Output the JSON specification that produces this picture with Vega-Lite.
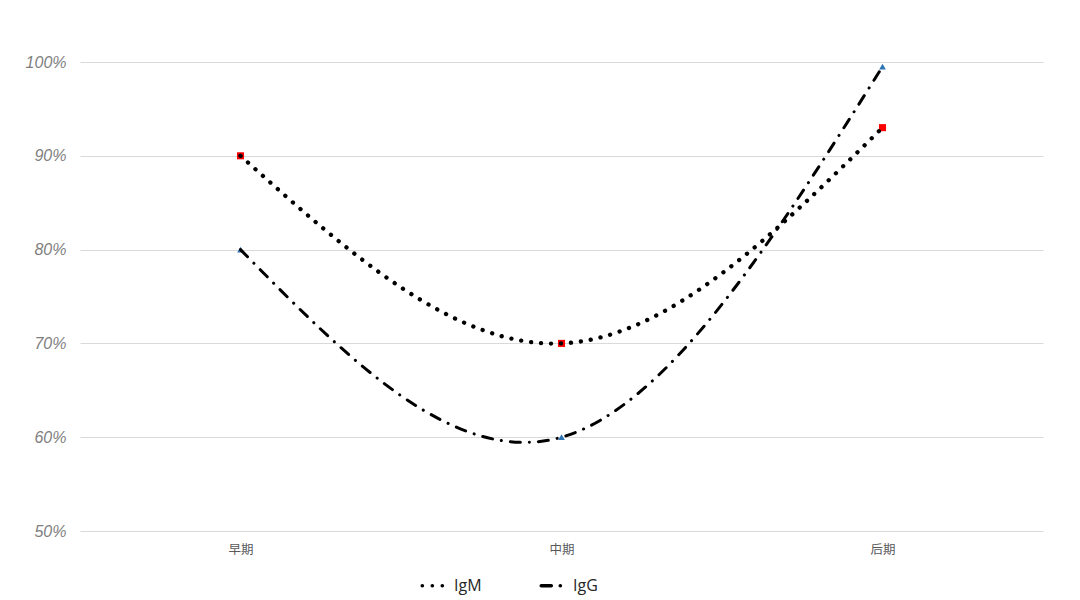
{
  "$schema": "https://vega.github.io/schema/vega-lite/v6.json",
  "width": 963,
  "height": 469,
  "autosize": {"type": "none"},
  "padding": {"left": 80, "top": 62, "right": 37, "bottom": 69},
  "background": "white",
  "config": {"view": {"stroke": null}},
  "data": {
    "values": [
      {"stage": "早期", "series": "IgM", "value": 0.90},
      {"stage": "中期", "series": "IgM", "value": 0.70},
      {"stage": "后期", "series": "IgM", "value": 0.93},
      {"stage": "早期", "series": "IgG", "value": 0.80},
      {"stage": "中期", "series": "IgG", "value": 0.60},
      {"stage": "后期", "series": "IgG", "value": 0.995}
    ]
  },
  "encoding": {
    "x": {
      "field": "stage",
      "type": "ordinal",
      "sort": ["早期", "中期", "后期"],
      "scale": {"type": "point", "padding": 0.5},
      "axis": {
        "title": null,
        "domain": false,
        "ticks": false,
        "grid": false,
        "labelAngle": 0,
        "labelFont": "Noto Sans CJK SC",
        "labelFontSize": 12.5,
        "labelColor": "#595959",
        "labelPadding": 12
      }
    },
    "y": {
      "field": "value",
      "type": "quantitative",
      "scale": {"domain": [0.5, 1.0], "nice": false, "zero": false},
      "axis": {
        "title": null,
        "values": [0.5, 0.6, 0.7, 0.8, 0.9, 1.0],
        "format": ".0%",
        "domain": false,
        "ticks": false,
        "grid": true,
        "gridColor": "#d9d9d9",
        "gridWidth": 1,
        "labelFont": "Liberation Sans",
        "labelFontStyle": "italic",
        "labelFontSize": 16,
        "labelColor": "#7f7f7f",
        "labelPadding": 14
      }
    },
    "strokeDash": {
      "field": "series",
      "type": "nominal",
      "sort": ["IgM", "IgG"],
      "scale": {"domain": ["IgM", "IgG"], "range": [[0.1, 9.9], [10, 9, 0.1, 9]]},
      "legend": {
        "title": null,
        "orient": "none",
        "legendX": 340,
        "legendY": 508,
        "direction": "horizontal",
        "symbolType": "stroke",
        "symbolSize": 700,
        "symbolStrokeWidth": 3.6,
        "symbolStrokeColor": "black",
        "columnPadding": 52,
        "labelFont": "Open Sans",
        "labelFontSize": 16,
        "labelColor": "#262626",
        "labelOffset": 3,
        "encode": {"symbols": {"update": {"strokeCap": {"value": "round"}}}}
      }
    }
  },
  "layer": [
    {
      "transform": [{"filter": "datum.series === 'IgM'"}],
      "mark": {"type": "point", "shape": "square", "filled": true, "color": "#ff0000", "size": 50, "opacity": 1, "strokeDash": [1, 0]},
      "encoding": {"strokeDash": {"value": [1, 0]}}
    },
    {
      "transform": [{"filter": "datum.series === 'IgG'"}],
      "mark": {"type": "point", "shape": "triangle-up", "filled": true, "color": "#2e75b6", "size": 45, "opacity": 1},
      "encoding": {"strokeDash": {"value": [1, 0]}}
    },
    {
      "transform": [{"filter": "datum.series === 'IgM'"}],
      "mark": {
        "type": "line",
        "interpolate": "natural",
        "color": "black",
        "strokeWidth": 4.3,
        "strokeCap": "round"
      }
    },
    {
      "transform": [{"filter": "datum.series === 'IgG'"}],
      "mark": {
        "type": "line",
        "interpolate": "natural",
        "color": "black",
        "strokeWidth": 3,
        "strokeCap": "round"
      }
    }
  ]
}
